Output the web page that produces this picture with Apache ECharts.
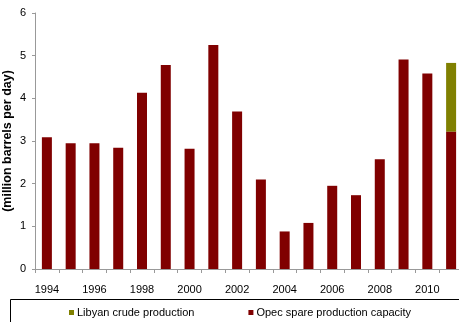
<!DOCTYPE html>
<html>
<head>
<meta charset="utf-8">
<script src="https://cdn.jsdelivr.net/npm/echarts@6/dist/echarts.min.js"></script>
<style>
  html, body { margin: 0; padding: 0; background: #fff; }
  #chart { width: 459px; height: 322px; }
</style>
</head>
<body>
<div id="chart"></div>
<script>
// Years on the category axis
const years = ['1994','1995','1996','1997','1998','1999','2000','2001','2002',
               '2003','2004','2005','2006','2007','2008','2009','2010','2011'];
// OPEC spare production capacity (million barrels per day)
const opecSpare = [3.09, 2.95, 2.95, 2.84, 4.13, 4.78, 2.82, 5.25, 3.69,
                   2.10, 0.88, 1.08, 1.95, 1.73, 2.57, 4.91, 4.58, 3.22];
// Libyan crude production, stacked on the last year only
const libyanCrude = [null, null, null, null, null, null, null, null, null,
                     null, null, null, null, null, null, null, null, 1.61];
// Value axis ticks
const yTicks = [0, 1, 2, 3, 4, 5, 6];

const FONT = '"Liberation Sans", Arial, sans-serif';
const chart = echarts.init(document.getElementById('chart'), null, { renderer: 'canvas' });

chart.setOption({
  animation: false,
  backgroundColor: '#ffffff',
  grid: { left: 35, top: 13, width: 428, bottom: 53, containLabel: false, outerBoundsMode: 'none' },
  legend: {
    left: 69,
    top: 307,
    padding: 0,
    itemWidth: 5,
    itemHeight: 5,
    itemGap: 54,
    icon: 'rect',
    textStyle: { fontFamily: FONT, fontSize: 11, color: '#000', padding: [0, 0, 0, -2] },
    data: ['Libyan crude production', 'Opec spare production capacity']
  },
  graphic: [{
    type: 'rect',
    shape: { x: 10.5, y: 299.5, width: 460, height: 30 },
    style: { fill: 'none', stroke: '#000', lineWidth: 1 },
    silent: true
  }],
  xAxis: {
    type: 'category',
    data: years,
    boundaryGap: true,
    axisLine: { lineStyle: { color: '#999', width: 1 } },
    axisTick: { show: true, interval: 0, length: 4, lineStyle: { color: '#999' } },
    axisLabel: { interval: 1, margin: 15, fontFamily: FONT, fontSize: 11, color: '#000' }
  },
  yAxis: {
    type: 'value',
    min: yTicks[0],
    max: yTicks[yTicks.length - 1],
    interval: 1,
    name: '(million barrels per day)',
    nameLocation: 'middle',
    nameRotate: 90,
    nameGap: 21,
    nameMoveOverlap: false,
    nameTextStyle: { fontFamily: FONT, fontSize: 12.5, fontWeight: 'bold', color: '#000' },
    axisLine: { show: true, lineStyle: { color: '#999', width: 1 } },
    axisTick: { show: true, length: 3, lineStyle: { color: '#999' } },
    splitLine: { show: false },
    axisLabel: { margin: 9, fontFamily: FONT, fontSize: 11, color: '#000' }
  },
  series: [
    {
      name: 'Opec spare production capacity',
      type: 'bar',
      stack: 'total',
      barWidth: 10,
      itemStyle: { color: '#800000' },
      data: opecSpare
    },
    {
      name: 'Libyan crude production',
      type: 'bar',
      stack: 'total',
      barWidth: 10,
      itemStyle: { color: '#808000' },
      data: libyanCrude
    }
  ]
});
</script>
</body>
</html>
